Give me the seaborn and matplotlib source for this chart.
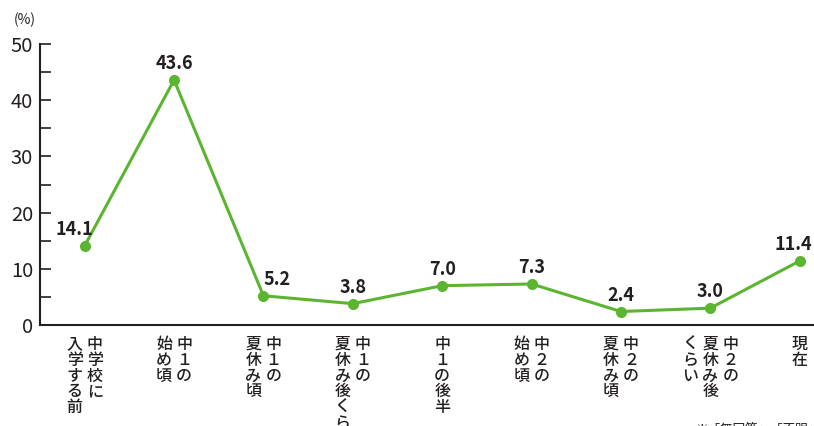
import matplotlib
matplotlib.use("Agg")
import matplotlib.pyplot as plt
from matplotlib.ticker import MultipleLocator
import seaborn as sns
import pandas as pd

# 各時期のラベル(縦書き、列は右から左へ)
periods = [
    ["中学校に", "入学する前"],
    ["中１の", "始め頃"],
    ["中１の", "夏休み頃"],
    ["中１の", "夏休み後くらい"],
    ["中１の後半"],
    ["中２の", "始め頃"],
    ["中２の", "夏休み頃"],
    ["中２の", "夏休み後", "くらい"],
    ["現在"],
]
values = [14.1, 43.6, 5.2, 3.8, 7.0, 7.3, 2.4, 3.0, 11.4]
value_label_dx = [-10, 0, 14, 0, 0, 0, 0, 0, -6]  # 数値ラベルの横ずらし(px)
y_ticks = [0, 10, 20, 30, 40, 50]

sns.set_theme(style="white")
plt.rcParams["font.family"] = ["Noto Sans CJK JP", "DejaVu Sans"]

green = "#5cb531"
ink = "#231f20"

df = pd.DataFrame({"pos": range(len(values)), "value": values})

fig = plt.figure(figsize=(8.14, 4.26), dpi=100)
ax = fig.add_axes([40 / 814, 1 - 325 / 426, 774 / 814, 281 / 426])

sns.lineplot(data=df, x="pos", y="value", ax=ax, color=green, linewidth=2.2,
             marker="o", markersize=8, markeredgewidth=0, clip_on=False)

ax.set_xlim(-0.5, 8.16)
ax.set_ylim(0, 50)
ax.set_yticks(y_ticks)
ax.set_yticklabels([str(t) for t in y_ticks])
ax.yaxis.set_minor_locator(MultipleLocator(5))
ax.tick_params(axis="y", which="both", direction="in", length=8, width=1.2,
               color=ink, labelsize=14.5, labelcolor=ink, pad=5, left=True)
ax.set_xticks([])
ax.set_xlabel("")
ax.set_ylabel("")

for side in ("top", "right"):
    ax.spines[side].set_visible(False)
for side in ("left", "bottom"):
    ax.spines[side].set_color(ink)
    ax.spines[side].set_linewidth(1.5)

# 数値ラベル
for i, (v, dx) in enumerate(zip(values, value_label_dx)):
    ax.annotate(f"{v:.1f}", xy=(i, v), xytext=(dx * 0.72, 5), textcoords="offset points",
                ha="center", va="bottom", fontsize=13, fontweight="bold", color=ink)

# 縦書きの時期ラベル
col_step = 20  # px
for i, cols in enumerate(periods):
    n = len(cols)
    for k, col in enumerate(cols):
        off_px = ((n - 1) / 2 - k) * col_step
        ax.annotate("\n".join(col), xy=(i, 0), xycoords=("data", "axes fraction"),
                    xytext=(off_px * 0.72, -8), textcoords="offset points",
                    ha="center", va="top", fontsize=11.5, fontweight="medium", color=ink,
                    linespacing=0.9, annotation_clip=False)

fig.text(25 / 814, 1 - 20 / 426, "(%)", ha="center", va="center", fontsize=10, color=ink)
fig.text(695 / 814, 1 - 429 / 426, "※「無回答」「不明」は省略", ha="left", va="center",
         fontsize=9, color=ink)

fig.savefig("out.png", dpi=100)
